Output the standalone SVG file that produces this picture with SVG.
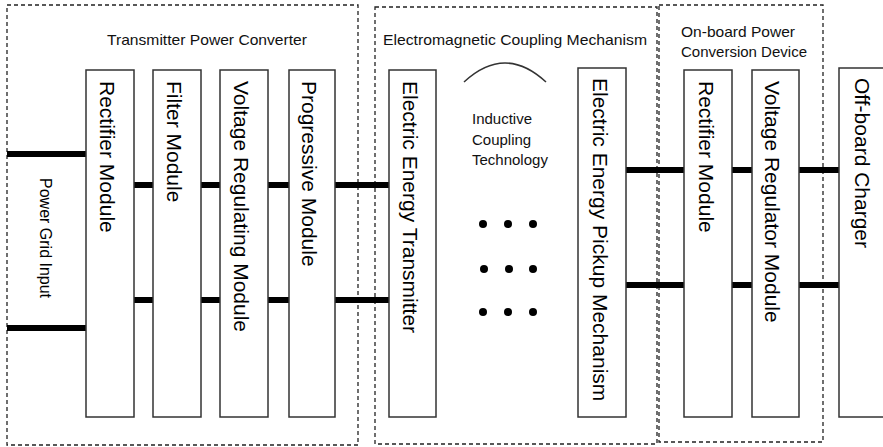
<svg xmlns="http://www.w3.org/2000/svg" width="883" height="447" viewBox="0 0 883 447">
<style>
.grp{fill:none;stroke:#222;stroke-width:1.3;stroke-dasharray:4 3}
.mod{fill:#fff;stroke:#333;stroke-width:1.5}
.vt{font-family:"Liberation Sans",Arial,sans-serif;font-size:21px;fill:#000}
.tt{font-family:"Liberation Sans",Arial,sans-serif;font-size:15px;fill:#111}
.wire{stroke:#000;stroke-width:6;fill:none}
</style>
<rect width="883" height="447" fill="#fff"/>
<g id="group-transmitter">
<rect class="grp" x="7" y="5" width="351" height="440"/>
<text class="tt" x="107" y="45" textLength="200" lengthAdjust="spacingAndGlyphs">Transmitter Power Converter</text>
</g>
<g id="group-coupling">
<rect class="grp" x="375" y="7" width="282" height="437"/>
<text class="tt" x="383" y="45" textLength="264" lengthAdjust="spacingAndGlyphs">Electromagnetic Coupling Mechanism</text>
</g>
<g id="group-onboard">
<rect class="grp" x="659" y="5" width="164" height="437"/>
<text class="tt" x="681" y="37" textLength="114" lengthAdjust="spacingAndGlyphs">On-board Power</text>
<text class="tt" x="681" y="57" textLength="126" lengthAdjust="spacingAndGlyphs">Conversion Device</text>
</g>
<g id="connectors">
<line class="wire" x1="7" y1="154" x2="86" y2="154"/>
<line class="wire" x1="7" y1="328" x2="86" y2="328"/>
<line class="wire" x1="134" y1="185" x2="153" y2="185"/>
<line class="wire" x1="134" y1="300" x2="153" y2="300"/>
<line class="wire" x1="201" y1="185" x2="220" y2="185"/>
<line class="wire" x1="201" y1="300" x2="220" y2="300"/>
<line class="wire" x1="268" y1="185" x2="289" y2="185"/>
<line class="wire" x1="268" y1="300" x2="289" y2="300"/>
<line class="wire" x1="335" y1="185" x2="389" y2="185"/>
<line class="wire" x1="335" y1="300" x2="389" y2="300"/>
<line class="wire" x1="626" y1="170" x2="684" y2="170"/>
<line class="wire" x1="626" y1="285" x2="684" y2="285"/>
<line class="wire" x1="732" y1="170" x2="752" y2="170"/>
<line class="wire" x1="732" y1="285" x2="752" y2="285"/>
<line class="wire" x1="799" y1="170" x2="839" y2="170"/>
<line class="wire" x1="799" y1="285" x2="839" y2="285"/>
</g>
<g id="power-grid-input">
<text transform="translate(40,178) rotate(90)" font-family="Liberation Sans, Arial, sans-serif" font-size="16" fill="#000">Power Grid Input</text>
</g>
<g id="rectifier-module">
<rect class="mod" x="86" y="70" width="48" height="347"/>
<text class="vt" transform="translate(100,81) rotate(90)">Rectifier Module</text>
</g>
<g id="filter-module">
<rect class="mod" x="153" y="70" width="48" height="347"/>
<text class="vt" transform="translate(167,81) rotate(90)">Filter Module</text>
</g>
<g id="voltage-regulating-module">
<rect class="mod" x="220" y="70" width="48" height="347"/>
<text class="vt" transform="translate(234,81) rotate(90)">Voltage Regulating Module</text>
</g>
<g id="progressive-module">
<rect class="mod" x="289" y="70" width="46" height="347"/>
<text class="vt" transform="translate(302,81) rotate(90)">Progressive Module</text>
</g>
<g id="electric-energy-transmitter">
<rect class="mod" x="389" y="70" width="47" height="347"/>
<text class="vt" transform="translate(403,81) rotate(90)">Electric Energy Transmitter</text>
</g>
<g id="inductive-coupling">
<path d="M464,82 Q505,44 546,82" fill="none" stroke="#333" stroke-width="1.5"/>
<text class="tt" x="472" y="124">Inductive</text>
<text class="tt" x="472" y="145">Coupling</text>
<text class="tt" x="472" y="165">Technology</text>
<g fill="#000">
<circle cx="483" cy="224" r="4"/><circle cx="508" cy="224" r="4"/><circle cx="533" cy="224" r="4"/>
<circle cx="484" cy="269" r="4"/><circle cx="509" cy="269" r="4"/><circle cx="533" cy="269" r="4"/>
<circle cx="483" cy="312" r="4"/><circle cx="508" cy="312" r="4"/><circle cx="533" cy="312" r="4"/>
</g>
</g>
<g id="electric-energy-pickup">
<rect class="mod" x="578" y="68" width="48" height="349"/>
<text class="vt" transform="translate(593,78) rotate(90)">Electric Energy Pickup Mechanism</text>
</g>
<g id="onboard-rectifier-module">
<rect class="mod" x="684" y="70" width="48" height="347"/>
<text class="vt" transform="translate(699,81) rotate(90)">Rectifier Module</text>
</g>
<g id="voltage-regulator-module">
<rect class="mod" x="752" y="70" width="47" height="347"/>
<text class="vt" transform="translate(765,81) rotate(90)">Voltage Regulator Module</text>
</g>
<g id="off-board-charger">
<rect class="mod" x="839" y="68" width="52" height="349"/>
<text class="vt" transform="translate(855,78) rotate(90)">Off-board Charger</text>
</g>
</svg>
